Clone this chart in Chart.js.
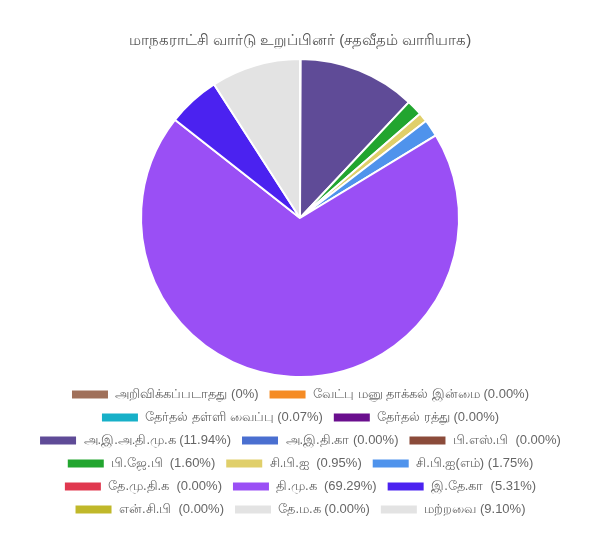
<!DOCTYPE html>
<html>
<head>
<meta charset="utf-8">
<script src="https://cdn.jsdelivr.net/npm/chart.js@4"></script>
<style>
	html, body { margin: 0; padding: 0; background: #fff; }
	#wrap { width: 600px; height: 550px; }
</style>
</head>
<body>
<div id="wrap"><canvas id="myChart"></canvas></div>
<script>
var labels = [
	"அறிவிக்கப்படாதது (0%)",
	"வேட்பு மனு தாக்கல் இன்மை (0.00%)",
	"தேர்தல் தள்ளி வைப்பு (0.07%)",
	"தேர்தல் ரத்து (0.00%)",
	"அ.இ.அ.தி.மு.க (11.94%)",
	"அ.இ.தி.கா (0.00%)",
	"பி.எஸ்.பி  (0.00%)",
	"பி.ஜே.பி  (1.60%)",
	"சி.பி.ஐ  (0.95%)",
	"சி.பி.ஐ(எம்) (1.75%)",
	"தே.மு.தி.க  (0.00%)",
	"தி.மு.க  (69.29%)",
	"இ.தே.கா  (5.31%)",
	"என்.சி.பி  (0.00%)",
	"தே.ம.க (0.00%)",
	"மற்றவை (9.10%)",
];
var values = [0, 0, 0.07, 0, 11.94, 0, 0, 1.6, 0.95, 1.75, 0, 69.29, 5.31, 0, 0, 9.1];
var colors = [
	"#a0705a", "#f58b24", "#17b0c8", "#6a0f8e", "#5f4b97", "#4a6fd0",
	"#8b4b3a", "#22a52f", "#e0cf6a", "#4f93ec", "#e0384f", "#9a4ff5",
	"#4b22f0", "#c0b82a", "#e3e3e3", "#e3e3e3",
];

Chart.defaults.font.family = "'Liberation Sans', Arial, sans-serif";
Chart.defaults.color = "#666";

var ctx = document.getElementById("myChart").getContext("2d");
var myChart = new Chart(ctx, {
	type: "pie",
	data: {
		labels: labels,
		datasets: [
			{
				data: values,
				backgroundColor: colors,
				borderColor: "#fff",
				borderWidth: 2,
			},
		],
	},
	options: {
		responsive: true,
		maintainAspectRatio: false,
		animation: false,
		layout: { padding: { top: 20, bottom: 24 } },
		plugins: {
			title: {
				display: true,
				text: "மாநகராட்சி வார்டு உறுப்பினர் (சதவீதம் வாரியாக)",
				font: { size: 15, weight: "normal" },
				color: "#555",
				padding: { top: 12, bottom: 8 },
			},
			legend: {
				position: "bottom",
				labels: {
					boxWidth: 38,
					boxHeight: 10,
					padding: 10,
					font: { size: 13 },
					color: "#666",
				},
			},
		},
	},
});
</script>
</body>
</html>
